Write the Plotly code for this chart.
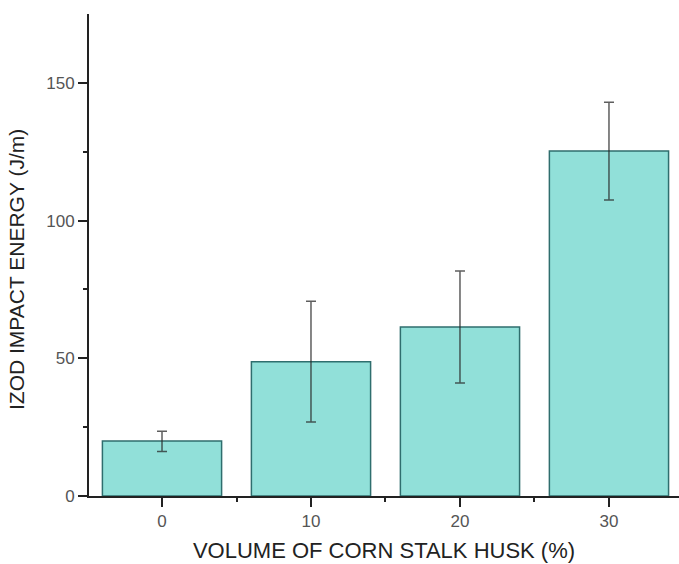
import plotly.graph_objects as go

categories = [0, 10, 20, 30]
impact_energy = [20.0, 48.7, 61.4, 125.3]
error_plus = [3.5, 22.0, 20.3, 17.7]
error_minus = [3.8, 21.8, 20.4, 17.8]
y_tick_vals = [0, 50, 100, 150]
x_tick_vals = [0, 10, 20, 30]

fig = go.Figure()
fig.add_trace(go.Bar(
    x=categories, y=impact_energy, width=8,
    marker=dict(color="#91E0D9", line=dict(color="#2F6E6E", width=1.5)),
    error_y=dict(type="data", array=error_plus, arrayminus=error_minus,
                 color="rgba(40,40,40,0.75)", thickness=1.5, width=5),
))

font_family = "Liberation Sans, Arial, sans-serif"
fig.update_layout(
    width=679, height=564,
    margin=dict(l=89, r=0, t=14, b=68),
    plot_bgcolor="white", paper_bgcolor="white",
    showlegend=False,
    font=dict(family=font_family, color="#444"),
    xaxis=dict(
        range=[-4.9, 34.7], tickmode="array", tickvals=x_tick_vals,
        ticktext=[str(v) for v in x_tick_vals],
        showgrid=False, zeroline=False, showline=True, linecolor="#222", linewidth=2,
        ticks="outside", ticklen=9, tickwidth=2, tickcolor="#222",
        tickfont=dict(size=17, color="#555"),
        minor=dict(tickvals=[5, 15, 25], ticks="outside", ticklen=4, tickwidth=2, tickcolor="#222"),
        title=dict(text="VOLUME OF CORN STALK HUSK (%)", font=dict(size=22, color="#222"), standoff=12),
    ),
    yaxis=dict(
        range=[0, 175], tickmode="array", tickvals=y_tick_vals,
        showgrid=False, zeroline=False, showline=True, linecolor="#222", linewidth=2,
        ticks="outside", ticklen=9, tickwidth=2, tickcolor="#222",
        tickfont=dict(size=17, color="#555"),
        minor=dict(tickvals=[25, 75, 125], ticks="outside", ticklen=4, tickwidth=2, tickcolor="#222"),
    ),
    annotations=[dict(
        text="IZOD IMPACT ENERGY (J/m)", textangle=-90, showarrow=False,
        xref="paper", yref="paper", x=-0.122, y=0.469, xanchor="center", yanchor="middle",
        font=dict(size=21, color="#222", family=font_family),
    )],
)
fig.write_html("out.html", config={"displayModeBar": False},
               post_script="document.body.style.margin='0';document.body.style.overflow='hidden';")
